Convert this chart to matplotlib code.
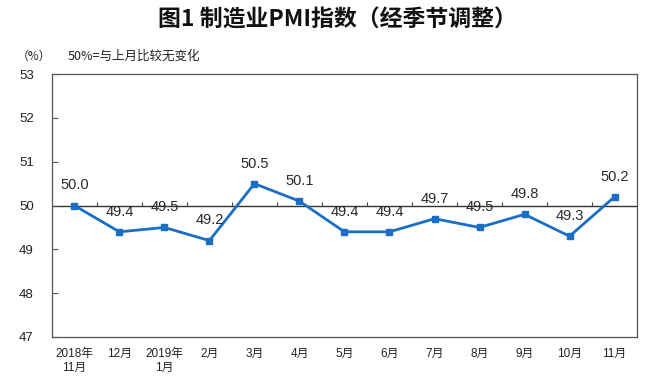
import matplotlib
matplotlib.use("Agg")
import matplotlib.pyplot as plt

plt.rcParams['font.family'] = ['Liberation Sans', 'Noto Sans CJK SC', 'DejaVu Sans']

categories = ["2018年\n11月", "12月", "2019年\n1月", "2月", "3月", "4月", "5月",
              "6月", "7月", "8月", "9月", "10月", "11月"]
pmi = [50.0, 49.4, 49.5, 49.2, 50.5, 50.1, 49.4, 49.4, 49.7, 49.5, 49.8, 49.3, 50.2]
yticks = [47, 48, 49, 50, 51, 52, 53]

fig = plt.figure(figsize=(6.65, 3.81), dpi=100)
ax = fig.add_axes([0.078, 0.1155, 0.88, 0.69])

x = list(range(len(pmi)))
line_color = '#1a6ec6'
ax.axhline(50, color='#333333', lw=1.0, zorder=1)
# small tick marks on the 50 baseline at category boundaries
ax.vlines([i + 0.5 for i in x[:-1]], 50, 50.07, color='#444444', lw=0.8, zorder=1)
ax.plot(x, pmi, color=line_color, lw=2.0, marker='s', markersize=4.5, zorder=3)

for xi, v in zip(x, pmi):
    ax.annotate(f"{v:.1f}", (xi, v), xytext=(0, 14.5), textcoords='offset points',
                ha='center', va='center', fontsize=10.5, color='#2a2a2a')

ax.set_xlim(-0.5, len(pmi) - 0.5)
ax.set_ylim(47, 53)
ax.set_yticks(yticks)
ax.set_yticklabels([str(t) for t in yticks], fontsize=9.5, color='#222222')
ax.set_xticks(x)
ax.set_xticklabels(categories, fontsize=8.5, color='#222222', linespacing=1.25,
                   va='top')
ax.tick_params(axis='x', length=0, pad=8)
ax.tick_params(axis='y', direction='in', length=4, width=0.8, color='#555555', pad=13)
for s in ax.spines.values():
    s.set_color('#555555')
    s.set_linewidth(0.9)

fig.text(0.508, 0.948, "图1 制造业PMI指数（经季节调整）", ha='center', va='center',
         fontsize=16.5, fontweight='bold', family=['Noto Sans CJK SC', 'DejaVu Sans'],
         color='#111111')
fig.text(0.025, 0.853, "（%）", ha='left', va='center', fontsize=8.5,
         family=['Noto Sans CJK SC', 'DejaVu Sans'], color='#222222')
fig.text(0.102, 0.853, "50%=与上月比较无变化", ha='left', va='center', fontsize=9,
         family=['Noto Sans CJK SC', 'DejaVu Sans'], color='#222222')

fig.savefig("out.png", dpi=100, facecolor='white')
